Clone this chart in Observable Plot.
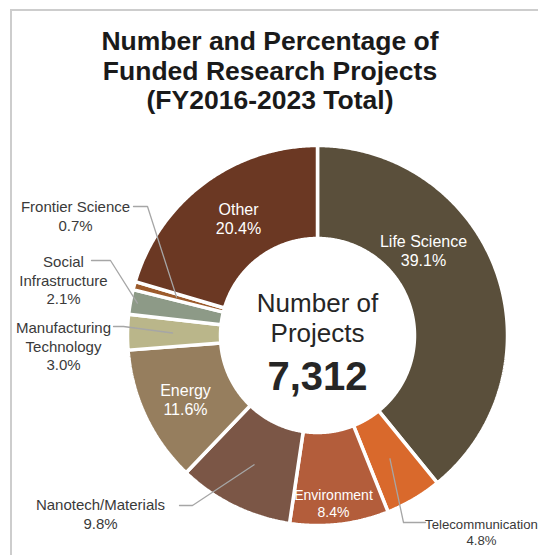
<!DOCTYPE html>
<html><head><meta charset="utf-8">
<script src="https://cdn.jsdelivr.net/npm/d3@7"></script>
<script src="https://cdn.jsdelivr.net/npm/@observablehq/plot@0.6"></script>
<style>
body{margin:0;background:#fff;font-family:"Liberation Sans",Arial,sans-serif;}
#wrap{position:relative;width:538px;height:555px;overflow:hidden;background:#fff;}
#frame{position:absolute;left:10px;top:9px;width:600px;height:600px;border-top:2px solid #cdcdcd;border-left:2px solid #cdcdcd;}
#title{position:absolute;left:0;top:27px;width:540px;text-align:center;font-weight:bold;font-size:26.5px;line-height:29.5px;color:#1a1a1a;}
#chart{position:absolute;left:0;top:125px;}
</style></head><body>
<div id="wrap"><div id="frame"></div>
<div id="title">Number and Percentage of<br>Funded Research Projects<br>(FY2016-2023 Total)</div>
<div id="chart"></div></div>
<script>
// ---- data ----
const categories = ["Life Science","Telecommunication","Environment","Nanotech/Materials","Energy","Manufacturing\nTechnology","Social\nInfrastructure","Frontier Science","Other"];
const shares = [39.1, 4.8, 8.4, 9.8, 11.6, 3.0, 2.1, 0.7, 20.4];
const sliceColors = ["#5a4f3b","#d9692c","#b35d3b","#7b5646","#967e5e","#bab68a","#8d9a87","#9c5b2c","#6b3823"];
const totalProjects = 7312;
const centerLines = ["Number of", "Projects"];

// ---- layout (offsets from donut centre, px) ----
const W = 538, H = 430, CX = 317, CY = 210, R = 190, r0 = 97;
const labelLayout = {
  "Life Science": {pos: [106, -85], inside: true, size: 16},
  "Other": {pos: [-79, -117], inside: true, size: 16},
  "Energy": {pos: [-132, 64], inside: true, size: 16},
  "Environment": {pos: [16, 168], inside: true, size: 14},
  "Telecommunication": {pos: [164, 196], leader: [108, 86, 187], ar: 143, size: 13.2},
  "Nanotech/Materials": {pos: [-217, 178], leader: [-138, -125, 170], ar: 144, size: 15},
  "Manufacturing\nTechnology": {pos: [-254, 10], leader: [-204, -194, -9], ar: 145, size: 15},
  "Social\nInfrastructure": {pos: [-254, -56], leader: [-226, -207, -75], ar: 183, size: 15},
  "Frontier Science": {pos: [-242, -120], leader: [-184, -170, -129], ar: 146, size: 15}
};

const total = d3.sum(shares);
const deg = Math.PI / 180;
const polar = (a, rad) => [CX + rad * Math.sin(a), CY - rad * Math.cos(a)];

let cum = 0;
const slices = categories.map((name, i) => {
  const a0 = cum / total * 2 * Math.PI;
  cum += shares[i];
  const a1 = cum / total * 2 * Math.PI;
  return {name, share: shares[i], a0, a1, mid: (a0 + a1) / 2};
});

// polygon points for each slice
const polyPts = [];
for (const s of slices) {
  const n = Math.max(2, Math.ceil((s.a1 - s.a0) / (0.5 * deg)));
  const pts = [];
  for (let k = 0; k <= n; k++) pts.push(polar(s.a0 + (s.a1 - s.a0) * k / n, R));
  for (let k = n; k >= 0; k--) pts.push(polar(s.a0 + (s.a1 - s.a0) * k / n, r0));
  pts.push(pts[0]);
  for (const [x, y] of pts) polyPts.push({name: s.name, x, y});
}

const insideLabels = [], outsideLabels = [], leaderPts = [];
for (const s of slices) {
  const L = labelLayout[s.name];
  const text = s.name + "\n" + s.share.toFixed(1) + "%";
  const row = {text, x: CX + L.pos[0], y: CY + L.pos[1], size: L.size};
  if (L.inside) insideLabels.push(row);
  else {
    outsideLabels.push(row);
    const [sx, ex, dy] = L.leader;
    const [ax, ay] = polar(s.mid, L.ar);
    leaderPts.push({name: s.name, x: CX + sx, y: CY + dy});
    leaderPts.push({name: s.name, x: CX + ex, y: CY + dy});
    leaderPts.push({name: s.name, x: ax, y: ay});
  }
}

const centerText = [
  {text: centerLines[0], y: CY - 32, size: 26, weight: "normal"},
  {text: centerLines[1], y: CY - 2, size: 26, weight: "normal"},
  {text: d3.format(",")(totalProjects), y: CY + 42, size: 40, weight: "bold"}
];

const chart = Plot.plot({
  width: W, height: H, margin: 0,
  x: {domain: [0, W], range: [0, W], axis: null},
  y: {domain: [0, H], range: [0, H], axis: null},
  color: {domain: categories, range: sliceColors},
  style: {fontFamily: "'Liberation Sans', Arial, sans-serif", background: "transparent"},
  marks: [
    Plot.line(polyPts, {x: "x", y: "y", z: "name", fill: "name", stroke: "white", strokeWidth: 3.5, strokeLinejoin: "miter", curve: "linear"}),
    Plot.line(leaderPts, {x: "x", y: "y", z: "name", stroke: "#a6a6a6", strokeWidth: 1.3}),
    ...insideLabels.map(t => Plot.text([t], {x: "x", y: "y", text: "text", fill: "white", fontSize: t.size, lineHeight: 1.2})),
    ...outsideLabels.map(t => Plot.text([t], {x: "x", y: "y", text: "text", fill: "#3a3a3a", fontSize: t.size, lineHeight: 1.25})),
    ...centerText.map(t => Plot.text([t], {x: () => CX, y: "y", text: "text", fill: "#262626", fontSize: t.size, fontWeight: t.weight}))
  ]
});
document.getElementById("chart").appendChild(chart);
</script>
</body></html>
